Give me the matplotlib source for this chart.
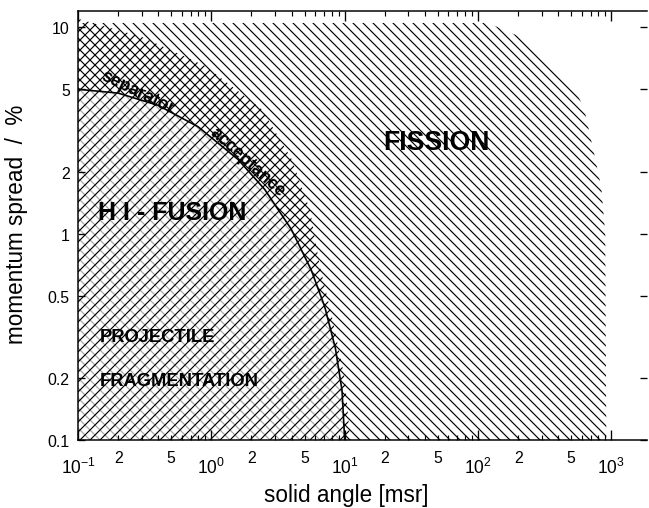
import numpy as np
import matplotlib
matplotlib.use('Agg')
import matplotlib.pyplot as plt
from matplotlib.ticker import FixedLocator, FixedFormatter, LogLocator, NullFormatter

plt.rcParams['font.family'] = ['Liberation Sans', 'DejaVu Sans']
plt.rcParams['mathtext.default'] = 'regular'
plt.rcParams['hatch.linewidth'] = 0.7

# fission region outline (solid angle msr, momentum spread %)
fission_x = [0.1, 0.1, 119, 238, 527, 627, 745, 841, 900, 917]
fission_y = [0.1, 10.5, 10.5, 8.65, 5.12, 4.0, 2.42, 1.67, 1.0, 0.1]

# outer edge of the fusion / fragmentation hatch
fusion_x = [0.1, 0.1, 0.3, 0.9, 2.4, 4.0, 5.5, 6.5, 8.0, 10.0, 11.0]
fusion_y = [0.1, 11.0, 9.0, 6.5, 4.0, 2.3, 1.3, 0.7, 0.4, 0.2, 0.1]

# separator acceptance curve
acc_x = [0.1, 0.2, 0.398, 0.794, 1.585, 2.51, 3.98, 5.62, 7.08, 8.51, 9.55, 10.0]
acc_y = [5.01, 4.80, 4.19, 3.30, 2.29, 1.64, 1.05, 0.665, 0.443, 0.279, 0.174, 0.1]

y_ticks = [0.1, 0.2, 0.5, 1, 2, 5, 10]
y_labels = ['0.1', '0.2', '0.5', '1', '2', '5', '10']
x_major = [0.1, 1, 10, 100, 1000]
x_major_labels = ['$10^{-1}$', '$10^{0}$', '$10^{1}$', '$10^{2}$', '$10^{3}$']
x_minor = [0.2, 0.5, 2, 5, 20, 50, 200, 500]
x_minor_labels = ['2', '5', '2', '5', '2', '5', '2', '5']

back = chr(92)  # backslash hatch

fig = plt.figure(figsize=(649 / 120, 509 / 120), dpi=120)
ax = fig.add_axes([0.1202, 0.1336, 0.8767, 0.8428])
ax.set_xscale('log')
ax.set_yscale('log')
ax.set_xlim(0.1, 1850)
ax.set_ylim(0.1, 12)

# hatched regions
ax.fill(fission_x, fission_y, facecolor='none', edgecolor='black', hatch=back * 4, linewidth=0)
ax.fill(acc_x + [0.1], acc_y + [0.1], facecolor='white', edgecolor='0.65', hatch=back * 4, linewidth=0)
ax.fill(fusion_x, fusion_y, facecolor='none', edgecolor='black', hatch='////', linewidth=0)

# acceptance curve
ax.plot(acc_x, acc_y, color='black', linewidth=1.0)

# region labels
ax.text(48.6, 2.77, 'FISSION', fontsize=16, fontweight='bold', ha='center', va='center')
ax.text(0.141, 1.27, 'H I - FUSION', fontsize=15, fontweight='bold', ha='left', va='center')
ax.text(0.146, 0.319, 'PROJECTILE', fontsize=11, fontweight='bold', ha='left', va='center')
ax.text(0.146, 0.195, 'FRAGMENTATION', fontsize=11, fontweight='bold', ha='left', va='center')
ax.text(0.28, 4.85, 'separator', fontsize=10.5, fontweight='bold', rotation=-26,
        ha='center', va='center', rotation_mode='anchor')
ax.text(1.85, 2.25, 'acceptance', fontsize=10.5, fontweight='bold', rotation=-42,
        ha='center', va='center', rotation_mode='anchor')

# axes styling
for s in ['left', 'bottom', 'top']:
    ax.spines[s].set_linewidth(0.9)
ax.spines['right'].set_visible(False)

ax.yaxis.set_major_locator(FixedLocator(y_ticks))
ax.yaxis.set_major_formatter(FixedFormatter(y_labels))
ax.yaxis.set_minor_locator(FixedLocator([]))

ax.xaxis.set_major_locator(FixedLocator(x_major))
ax.xaxis.set_major_formatter(FixedFormatter(x_major_labels))
ax.xaxis.set_minor_locator(LogLocator(base=10, subs=np.arange(2, 10), numticks=20))
ax.xaxis.set_minor_formatter(NullFormatter())

ax.tick_params(axis='x', which='major', direction='in', length=6, width=0.8,
               top=True, pad=10, labelsize=10.5)
ax.tick_params(axis='x', which='minor', direction='in', length=3, width=0.7, top=True)
ax.tick_params(axis='y', which='major', direction='in', length=4, width=0.8,
               right=True, pad=5, labelsize=9.5)

# minor "2" and "5" labels sit a little higher than the decade labels
for xv, lab in zip(x_minor, x_minor_labels):
    ax.text(xv, -0.024, lab, transform=ax.get_xaxis_transform(), ha='center', va='top',
            fontsize=9.5)

ax.set_xlabel('solid angle [msr]', fontsize=13.5)
ax.xaxis.set_label_coords(0.471, -0.1)
ax.set_ylabel('momentum spread  /  %', fontsize=13.5)
ax.yaxis.set_label_coords(-0.088, 0.506)

fig.savefig('out.png', dpi=120)
